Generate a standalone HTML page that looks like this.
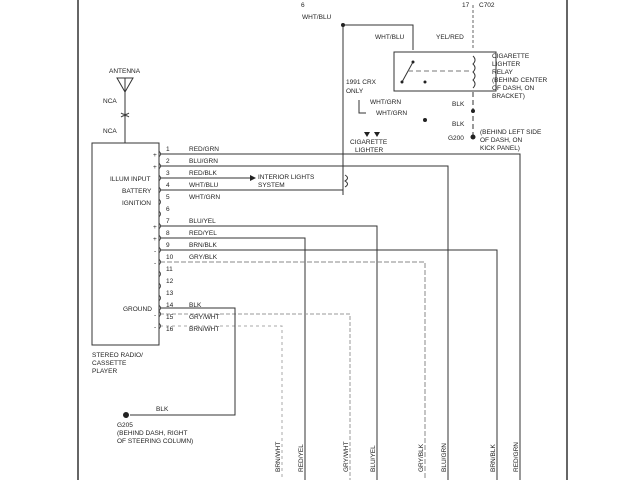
<!DOCTYPE html><html><head><style>body{margin:0;background:#fff}svg{display:block}text{font-family:"Liberation Sans",sans-serif;font-size:6.5px;fill:#222}</style></head><body>
<svg width="640" height="480" viewBox="0 0 640 480">
<g stroke="#333" fill="none" stroke-width="1">
<line x1="78" y1="0" x2="78" y2="480" stroke-width="1.5"/>
<line x1="567" y1="0" x2="567" y2="480" stroke-width="1.5"/>
<path d="M117,78 L133,78 L125,92 Z"/><line x1="125" y1="78" x2="125" y2="143"/>
<path d="M121,113 q4,3 8,0 M121,117 q4,-3 8,0"/>
<rect x="92" y="143" width="67" height="202"/>
<path d="M160,154 H520 V480"/>
<path d="M160,166 H448 V480"/>
<path d="M160,190 H343"/>
<path d="M160,226 H377 V480"/>
<path d="M160,238 H305 V480"/>
<path d="M160,250 H497 V480"/>
<path d="M160,262 H425 V480" stroke="#888" stroke-dasharray="5,2"/>
<path d="M160,314 H350 V480" stroke="#999" stroke-dasharray="4,2"/>
<path d="M160,326 H282 V480" stroke="#aaa" stroke-dasharray="3,3"/>
<path d="M160,308 H235 V415 H130"/>
<line x1="160" y1="178" x2="250" y2="178"/>
<line x1="343" y1="25" x2="343" y2="195"/>
<path d="M343,25 H413 V50"/>
<line x1="473" y1="5" x2="473" y2="50" stroke-dasharray="3,2" stroke="#666"/>
<rect x="394" y="52" width="102" height="39"/>
<path d="M413,62 L402,82"/><line x1="408" y1="71" x2="470" y2="71" stroke-dasharray="5,3" stroke="#777"/>
<path d="M473,56 q4,4 0,8 q4,4 0,8 q4,4 0,8 q4,4 0,8"/>
<line x1="473" y1="92" x2="473" y2="138" stroke-dasharray="5,3"/>
<path d="M359,100 V113 H366"/>
<path d="M345,175 q5,3 0,6 q5,3 0,6"/>
<g stroke-width="0.8">
<path d="M159,151 q3,3 0,6 M159,163 q3,3 0,6 M159,175 q3,3 0,6 M159,187 q3,3 0,6 M159,199 q3,3 0,6 M159,211 q3,3 0,6 M159,223 q3,3 0,6 M159,235 q3,3 0,6 M159,247 q3,3 0,6 M159,259 q3,3 0,6 M159,271 q3,3 0,6 M159,283 q3,3 0,6 M159,295 q3,3 0,6 M159,305 q3,3 0,6 M159,311 q3,3 0,6 M159,323 q3,3 0,6"/>
</g>
</g>
<path d="M250,175 L256,178 L250,181 Z" fill="#222"/>
<path d="M364,132 L370,132 L367,137Z M374,132 L380,132 L377,137Z" fill="#222"/>
<g fill="#222"><circle cx="343" cy="25" r="2"/><circle cx="425" cy="120" r="2"/><circle cx="473" cy="111" r="2"/><circle cx="473" cy="137" r="2.5"/><circle cx="413" cy="62" r="1.5"/><circle cx="402" cy="82" r="1.5"/><circle cx="425" cy="82" r="1.5"/><circle cx="126" cy="415" r="3"/></g>
<g font-size="6"><text x="153" y="157">+</text><text x="153" y="169">+</text><text x="153" y="229">+</text><text x="153" y="241">+</text><text x="154" y="253">-</text><text x="154" y="265">-</text><text x="154" y="317">-</text><text x="154" y="329">-</text></g>
<text x="301" y="7">6</text><text x="462" y="7">17</text><text x="479" y="7">C702</text>
<text x="302" y="19">WHT/BLU</text>
<text x="375" y="39">WHT/BLU</text><text x="436" y="39">YEL/RED</text>
<text x="492" y="58">CIGARETTE</text><text x="492" y="66">LIGHTER</text><text x="492" y="74">RELAY</text><text x="492" y="82">(BEHIND CENTER</text><text x="492" y="90">OF DASH, ON</text><text x="492" y="98">BRACKET)</text>
<text x="346" y="84">1991 CRX</text><text x="346" y="93">ONLY</text>
<text x="370" y="104">WHT/GRN</text><text x="376" y="115">WHT/GRN</text>
<text x="452" y="106">BLK</text><text x="452" y="126">BLK</text><text x="448" y="140">G200</text>
<text x="480" y="134">(BEHIND LEFT SIDE</text><text x="480" y="142">OF DASH, ON</text><text x="480" y="150">KICK PANEL)</text>
<text x="350" y="144">CIGARETTE</text><text x="355" y="152">LIGHTER</text>
<text x="109" y="73">ANTENNA</text><text x="103" y="103">NCA</text><text x="103" y="133">NCA</text>
<text x="110" y="181">ILLUM INPUT</text><text x="122" y="193">BATTERY</text><text x="122" y="205">IGNITION</text><text x="123" y="311">GROUND</text>
<text x="92" y="357">STEREO RADIO/</text><text x="92" y="365">CASSETTE</text><text x="92" y="373">PLAYER</text>
<text x="156" y="411">BLK</text><text x="117" y="427">G205</text><text x="117" y="435">(BEHIND DASH, RIGHT</text><text x="117" y="443">OF STEERING COLUMN)</text>
<text x="258" y="179">INTERIOR LIGHTS</text><text x="258" y="187">SYSTEM</text>
<g>
<text x="166" y="151">1</text><text x="166" y="163">2</text><text x="166" y="175">3</text><text x="166" y="187">4</text><text x="166" y="199">5</text><text x="166" y="211">6</text><text x="166" y="223">7</text><text x="166" y="235">8</text><text x="166" y="247">9</text><text x="166" y="259">10</text><text x="166" y="271">11</text><text x="166" y="283">12</text><text x="166" y="295">13</text><text x="166" y="307">14</text><text x="166" y="319">15</text><text x="166" y="331">16</text>
<text x="189" y="151">RED/GRN</text><text x="189" y="163">BLU/GRN</text><text x="189" y="175">RED/BLK</text><text x="189" y="187">WHT/BLU</text><text x="189" y="199">WHT/GRN</text><text x="189" y="223">BLU/YEL</text><text x="189" y="235">RED/YEL</text><text x="189" y="247">BRN/BLK</text><text x="189" y="259">GRY/BLK</text><text x="189" y="307">BLK</text><text x="189" y="319">GRY/WHT</text><text x="189" y="331">BRN/WHT</text>
</g>
<g font-size="6">
<text transform="translate(280,472) rotate(-90)">BRN/WHT</text><text transform="translate(303,472) rotate(-90)">RED/YEL</text><text transform="translate(348,472) rotate(-90)">GRY/WHT</text><text transform="translate(375,472) rotate(-90)">BLU/YEL</text><text transform="translate(423,472) rotate(-90)">GRY/BLK</text><text transform="translate(446,472) rotate(-90)">BLU/GRN</text><text transform="translate(495,472) rotate(-90)">BRN/BLK</text><text transform="translate(518,472) rotate(-90)">RED/GRN</text>
</g>
</svg></body></html>
